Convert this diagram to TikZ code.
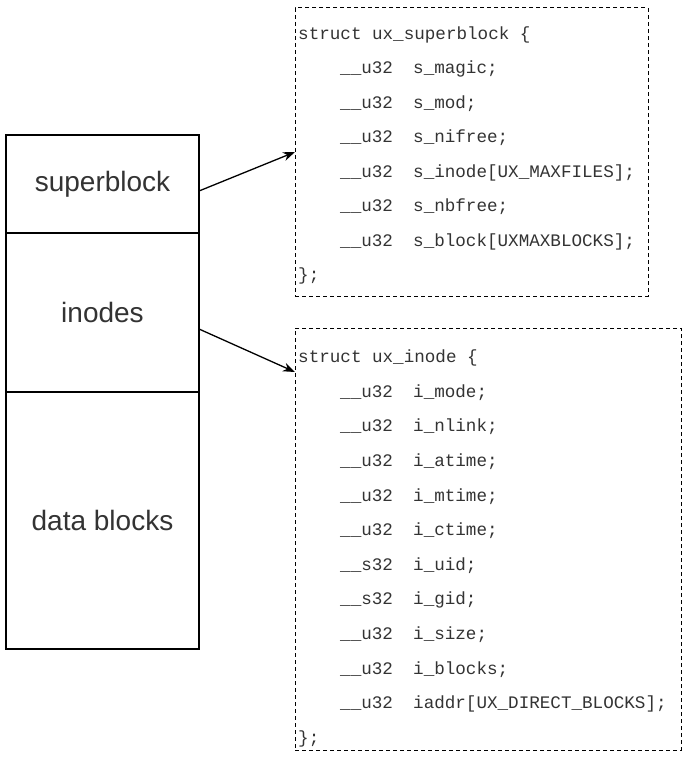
\documentclass[tikz,border=0pt]{standalone}
\usepackage{fontspec}
\setmainfont{Liberation Sans}
\newfontfamily\codefont{Liberation Mono}
\usetikzlibrary{arrows.meta,calc}
\definecolor{txt}{HTML}{333333}
\tikzset{
  layer/.style={draw=black, line width=1.3pt, inner sep=0pt, outer sep=0pt, font=\fontsize{28}{30}\selectfont, text=txt},
  structbox/.style={draw=black, line width=1pt, dash pattern=on 4pt off 3pt, inner sep=0pt, outer sep=0pt},
  code/.style={anchor=base west, inner sep=0pt, font=\codefont\fontsize{17.6}{20}\selectfont, text=txt},
  link/.style={draw=black, line width=1.3pt, -{Stealth[length=12pt,width=9pt]}}
}
\newcommand{\fld}[2]{\makebox[73pt][l]{#1}#2}
\begin{document}
\begin{tikzpicture}[x=1pt,y=-1pt]
\useasboundingbox (0,0) rectangle (685,768);
% left stack
\node[layer, minimum width=193pt, minimum height=98pt] (sb) at (102.5,184) {superblock};
\node[layer, minimum width=193pt, minimum height=159pt] (in) at (102.5,312.5) {inodes};
\node[layer, minimum width=193pt, minimum height=257pt] (db) at (102.5,520.5) {data blocks};
% struct boxes
\node[structbox, minimum width=353pt, minimum height=288pt] (sbs) at (471.5,152) {};
\node[structbox, minimum width=386pt, minimum height=422pt] (ibs) at (488,539) {};
% superblock struct text
\node[code] (s0) at (298,39.5) {struct ux\_superblock \{};
\foreach \t [count=\i] in {
  {\fld{\_\_u32}{s\_magic;}},
  {\fld{\_\_u32}{s\_mod;}},
  {\fld{\_\_u32}{s\_nifree;}},
  {\fld{\_\_u32}{s\_inode[UX\_MAXFILES];}},
  {\fld{\_\_u32}{s\_nbfree;}},
  {\fld{\_\_u32}{s\_block[UXMAXBLOCKS];}}}
  \node[code] (s\i) at (340,39.5+34.43*\i) {\t};
\node[code] (s7) at (298,39.5+34.43*7) {\};};
% inode struct text
\node[code] (i0) at (298,362.5) {struct ux\_inode \{};
\foreach \t [count=\i] in {
  {\fld{\_\_u32}{i\_mode;}},
  {\fld{\_\_u32}{i\_nlink;}},
  {\fld{\_\_u32}{i\_atime;}},
  {\fld{\_\_u32}{i\_mtime;}},
  {\fld{\_\_u32}{i\_ctime;}},
  {\fld{\_\_s32}{i\_uid;}},
  {\fld{\_\_s32}{i\_gid;}},
  {\fld{\_\_u32}{i\_size;}},
  {\fld{\_\_u32}{i\_blocks;}},
  {\fld{\_\_u32}{iaddr[UX\_DIRECT\_BLOCKS];}}}
  \node[code] (i\i) at (340,362.5+34.64*\i) {\t};
\node[code] (i11) at (298,362.5+34.64*11) {\};};
% connectors
\coordinate (a1) at ($(sb.east)+(0,7)$);
\coordinate (a2) at ($(in.east)+(0,16.5)$);
\coordinate (b2) at ($(ibs.north west)+(0,44)$);
\draw[link] (a1) -- (sbs.west);
\draw[link] (a2) -- (b2);
\end{tikzpicture}
\end{document}
